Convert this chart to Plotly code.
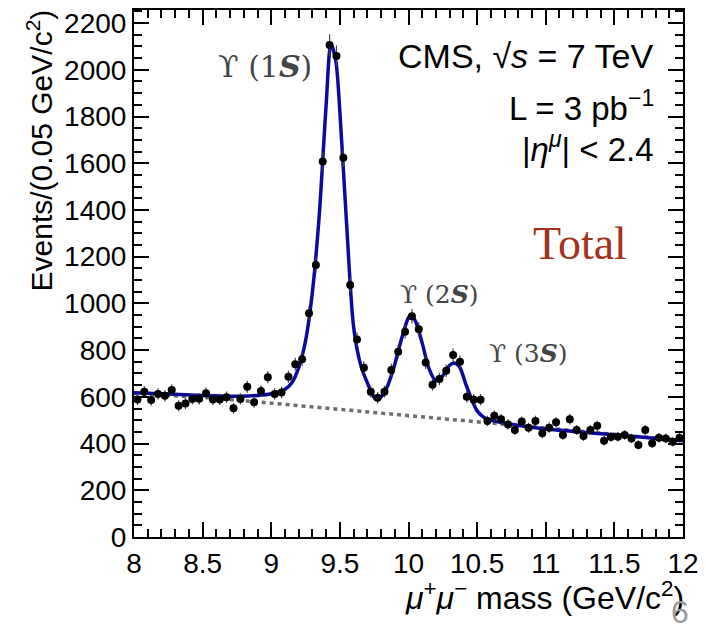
import plotly.graph_objects as go

# ---- data ----
mass_bins = [8.025 + 0.05 * k for k in range(80)]  # bin centres, 0.05 GeV bins
events = [589, 622, 586, 612, 605, 629, 562, 571, 591, 592,
          615, 589, 589, 598, 551, 591, 643, 577, 625, 684,
          612, 619, 686, 740, 761, 958, 1164, 1607, 2106, 2059,
          1624, 1079, 846, 725, 622, 596, 622, 715, 793, 879,
          945, 889, 747, 652, 676, 712, 779, 750, 600, 588,
          588, 497, 519, 504, 482, 458, 494, 468, 497, 444,
          468, 491, 437, 504, 458, 432, 458, 476, 412, 428,
          429, 437, 422, 394, 458, 401, 425, 422, 408, 425]

fit_mass = [8.0, 8.25, 8.5, 8.75, 8.9, 9.0, 9.1, 9.15, 9.2, 9.25, 9.3, 9.35, 9.4,
            9.435, 9.47, 9.5, 9.55, 9.6, 9.65, 9.7, 9.76, 9.8, 9.85, 9.9, 9.95,
            10.0, 10.02, 10.05, 10.1, 10.15, 10.2, 10.25, 10.3, 10.33, 10.37,
            10.42, 10.46, 10.5, 10.55, 10.6, 10.7, 10.8, 11.0, 11.5, 12.0]
fit_events = [618, 612, 606, 603, 606, 613, 632, 660, 725, 840, 1050, 1380, 1850,
              2110, 2040, 1820, 1330, 900, 740, 660, 590, 600, 650, 740, 850,
              940, 950, 925, 830, 720, 668, 690, 735, 745, 730,
              650, 590, 540, 512, 500, 487, 478, 462, 438, 412]

bkg_mass = [8.0, 8.5, 9.0, 9.5, 10.0, 10.5, 11.0, 11.5, 12.0]
bkg_events = [614, 598, 573, 546, 520, 493, 466, 440, 413]

x_ticks = [8, 8.5, 9, 9.5, 10, 10.5, 11, 11.5, 12]
x_ticktext = ["8", "8.5", "9", "9.5", "10", "10.5", "11", "11.5", "12"]
y_ticks = [0, 200, 400, 600, 800, 1000, 1200, 1400, 1600, 1800, 2000, 2200]
y_ticktext = [str(v) for v in y_ticks]

fig = go.Figure()
fig.add_trace(go.Scatter(x=bkg_mass, y=bkg_events, mode="lines",
                         line=dict(color="#6e6e6e", width=3.5, dash="4px,4px"),
                         hoverinfo="skip", showlegend=False))
fig.add_trace(go.Scatter(x=fit_mass, y=fit_events, mode="lines",
                         line=dict(color="#0a0a9c", width=3.5, shape="spline", smoothing=0.8),
                         showlegend=False))
fig.add_trace(go.Scatter(x=mass_bins, y=events, mode="markers",
                         marker=dict(color="black", size=8),
                         error_y=dict(type="sqrt", color="#444", thickness=1.2, width=0),
                         showlegend=False))

axis_common = dict(showline=True, linecolor="black", linewidth=2, mirror="allticks",
                   ticks="inside", ticklen=15, tickwidth=2, tickcolor="black",
                   showgrid=False, zeroline=False, automargin=False,
                   ticklabeloverflow="allow",
                   tickfont=dict(family="Liberation Sans, Arial, sans-serif", size=28, color="black"))

fig.update_xaxes(range=[8, 12], tickvals=x_ticks, ticktext=x_ticktext,
                 minor=dict(ticks="inside", dtick=0.1, ticklen=8, tickwidth=1.5, tickcolor="black"),
                 **axis_common)
fig.update_yaxes(range=[0, 2256], tickvals=y_ticks, ticktext=y_ticktext,
                 minor=dict(ticks="inside", dtick=50, ticklen=8, tickwidth=1.5, tickcolor="black"),
                 **axis_common)

serif = "DejaVu Serif, Liberation Serif, serif"
sans = "Liberation Sans, Arial, sans-serif"
ann = []
ann.append(dict(text="ϒ (1<b><i>S</i></b>)", x=0.2386, y=0.892, font=dict(family=serif, size=30, color="#444")))
ann.append(dict(text="ϒ (2<b><i>S</i></b>)", x=0.557, y=0.461, font=dict(family=serif, size=25, color="#444")))
ann.append(dict(text="ϒ (3<b><i>S</i></b>)", x=0.7177, y=0.349, font=dict(family=serif, size=25, color="#444")))
ann.append(dict(text="CMS, √<i>s</i> = 7 TeV", x=0.951, y=0.9127, xanchor="right",
                font=dict(family=sans, size=34, color="black")))
ann.append(dict(text="L = 3 pb<sup>−1</sup>", x=0.951, y=0.818, xanchor="right",
                font=dict(family=sans, size=33, color="black")))
ann.append(dict(text="|<i>η</i><sup><i>μ</i></sup>| < 2.4", x=0.951, y=0.740, xanchor="right",
                font=dict(family=sans, size=33, color="black")))
ann.append(dict(text="Total", x=0.8124, y=0.556, font=dict(family="Liberation Serif, serif", size=46, color="#a3321c")))
ann.append(dict(text="Events/(0.05 GeV/c<sup>2</sup>)", x=-0.171, y=1.005, xanchor="center", yanchor="top",
                textangle=-90, font=dict(family=sans, size=30, color="black")))
ann.append(dict(text="<i>μ</i><sup>+</sup><i>μ</i><sup>−</sup> mass (GeV/c<sup>2</sup>)", x=1.006, y=-0.07,
                xanchor="right", yanchor="top", font=dict(family=sans, size=32, color="black")))
ann.append(dict(text="6", x=0.995, y=-0.142, xanchor="center", yanchor="middle",
                font=dict(family=sans, size=32, color="#9a9a9a")))
for a in ann:
    a.setdefault("xref", "paper")
    a.setdefault("yref", "paper")
    a.setdefault("showarrow", False)
    a.setdefault("xanchor", "center")
    a.setdefault("yanchor", "middle")
fig.update_layout(annotations=ann)

# page body keeps an 8px default margin, so the figure is placed 8px right/down
fig.update_layout(width=698, height=619, margin=dict(l=126, r=23, t=2, b=90),
                  paper_bgcolor="white", plot_bgcolor="white")
fig.write_html("out.html")
